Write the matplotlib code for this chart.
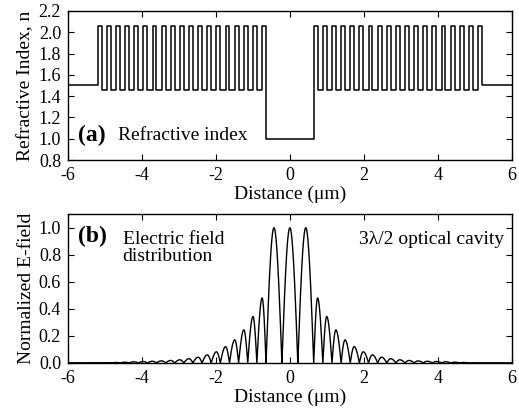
import numpy as np
import matplotlib
matplotlib.use("Agg")
import matplotlib.pyplot as plt

plt.rcParams['font.family'] = ['Liberation Serif', 'DejaVu Serif']
plt.rcParams['axes.unicode_minus'] = False
plt.rcParams['mathtext.fontset'] = 'stix'

# ---------------- data ----------------
# layer structure
n_outer = 1.50
n_high = 2.06
n_low = 1.46
n_cavity = 1.00
d_high = 0.105      # um
d_low = 0.142       # um
n_pairs = 18        # H/L pairs per mirror (plus one extra H layer)
cavity_half = 0.645 # um

# E-field: peak of each lobe (cavity lobes, then mirror lobes going outward)
cavity_peaks = [1.0, 1.0, 1.0]
mirror_peaks = [0.48, 0.343, 0.244, 0.17, 0.12, 0.082, 0.059, 0.042, 0.031,
                0.023, 0.018, 0.015, 0.012, 0.010, 0.008, 0.005, 0.003, 0.001]
outer_level = 0.0005

xticks = [-6, -4, -2, 0, 2, 4, 6]
yticks_a = [0.8, 1.0, 1.2, 1.4, 1.6, 1.8, 2.0, 2.2]
yticks_b = [0.0, 0.2, 0.4, 0.6, 0.8, 1.0]

# ---------------- build profile ----------------
# right half layer list (thickness, index), going outward from cavity edge
layers = []
for i in range(n_pairs):
    layers.append((d_high, n_high))
    layers.append((d_low, n_low))
layers.append((d_high, n_high))

edges = [cavity_half]
for d, _ in layers:
    edges.append(edges[-1] + d)
edges = np.array(edges)
idx = np.array([n for _, n in layers])

# step arrays for right half
xr = [0.0, cavity_half]
nr = [n_cavity, n_cavity]
for i in range(len(layers)):
    xr += [edges[i], edges[i + 1]]
    nr += [idx[i], idx[i]]
xr += [edges[-1], 6.5]
nr += [n_outer, n_outer]
xr = np.array(xr)
nr = np.array(nr)
x_prof = np.concatenate([-xr[::-1], xr])
n_prof = np.concatenate([nr[::-1], nr])

# E-field right half
pts_x = []
pts_e = []
half_wave = 2 * cavity_half / 3
xc = np.linspace(0, cavity_half, 400)
pts_x.append(xc)
pts_e.append(cavity_peaks[1] * np.abs(np.cos(np.pi * xc / half_wave)))
for k, A in enumerate(mirror_peaks):
    x0 = edges[2 * k]
    x1 = edges[2 * k + 1]
    x2 = edges[2 * k + 2]
    xa = np.linspace(x0, x1, 40)
    xb = np.linspace(x1, x2, 50)
    pts_x += [xa, xb]
    pts_e += [A * np.sin(0.5 * np.pi * (xa - x0) / (x1 - x0)),
              A * np.cos(0.5 * np.pi * (xb - x1) / (x2 - x1))]
xo = np.linspace(edges[-3], 6.5, 50)
pts_x.append(xo)
pts_e.append(np.full_like(xo, outer_level))
xe = np.concatenate(pts_x)
ee = np.concatenate(pts_e)
x_field = np.concatenate([-xe[::-1], xe])
e_field = np.concatenate([ee[::-1], ee])

# ---------------- plot ----------------
fig = plt.figure(figsize=(5.19, 4.20), dpi=100)
axa = fig.add_axes([0.131, 0.619, 0.855, 0.355])
axb = fig.add_axes([0.131, 0.136, 0.855, 0.354])

axa.plot(x_prof, n_prof, color='black', lw=1.1)
axa.set_xlim(-6, 6)
axa.set_ylim(0.8, 2.2)
axa.set_yticks(yticks_a)
axa.set_yticklabels([f"{v:.1f}" for v in yticks_a])
axa.set_ylabel("Refractive Index, n", fontsize=14, labelpad=3)
axa.set_xlabel("Distance (\u03bcm)", fontsize=14, labelpad=1)
axa.text(-5.72, 1.03, "(a)", fontsize=17, fontweight='bold', va='center', ha='left')
axa.text(-4.65, 1.03, "Refractive index", fontsize=14, va='center', ha='left')

axb.plot(x_field, e_field, color='black', lw=1.0)
axb.set_xlim(-6, 6)
axb.set_ylim(0, 1.1)
axb.set_yticks(yticks_b)
axb.set_yticklabels([f"{v:.1f}" for v in yticks_b])
axb.set_ylabel("Normalized E-field", fontsize=14, labelpad=3)
axb.set_xlabel("Distance (\u03bcm)", fontsize=14, labelpad=1)
axb.text(-5.72, 0.935, "(b)", fontsize=17, fontweight='bold', va='center', ha='left')
axb.text(-4.52, 0.85, "Electric field\ndistribution", fontsize=14, va='center',
         ha='left', linespacing=1.05)
axb.text(5.8, 0.91, "3\u03bb/2 optical cavity", fontsize=14, va='center', ha='right')

for ax in (axa, axb):
    ax.set_xticks(xticks)
    ax.set_xticklabels([str(v) for v in xticks])
    ax.tick_params(direction='in', top=True, right=True, labelsize=13,
                   length=4, width=0.8, pad=5)
    for s in ax.spines.values():
        s.set_linewidth(1.0)

fig.savefig("out.png", dpi=100)
